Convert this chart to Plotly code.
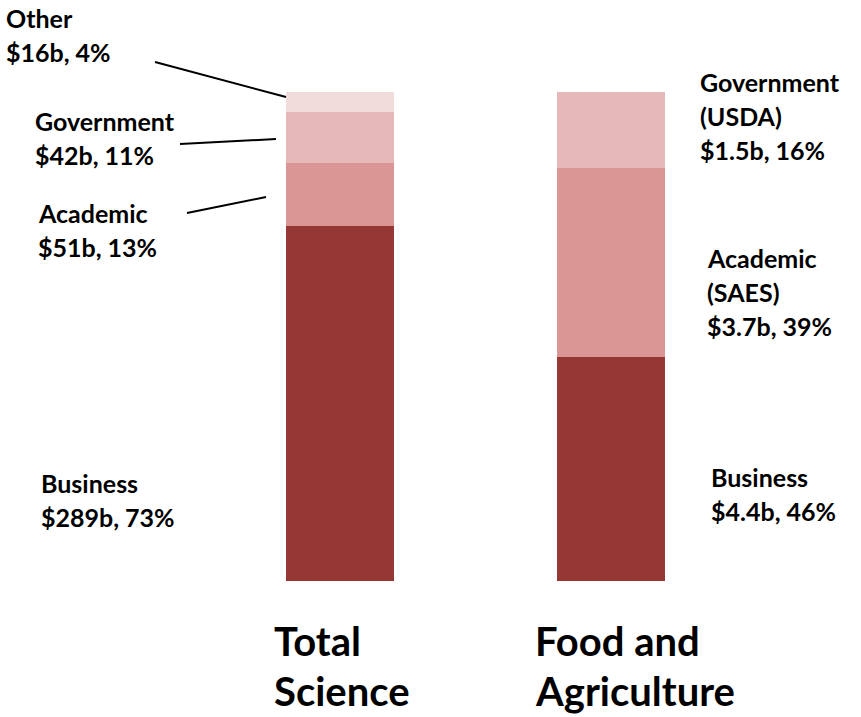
import plotly.graph_objects as go

# R&D funding by source, billions of dollars
categories = ["Total Science", "Food and Agriculture"]
sources = ["Business", "Academic", "Government", "Other"]
total_science = [289, 51, 42, 16]
food_agriculture = [4.4, 3.7, 1.5, 0]
colors = ["#953735", "#d99694", "#e6b9b8", "#f2dcdb"]

W, H = 861, 717
FONT = "Lato"


def px(x):
    return x / W


def py(y):
    return 1 - y / H


def pct(values, i):
    return round(100 * values[i] / sum(values))


def money(v):
    return f"${v:g}b"


fig = go.Figure()
for i, src in enumerate(sources):
    fig.add_trace(go.Bar(
        x=[0, 1],
        y=[total_science[i], food_agriculture[i]],
        name=src,
        marker=dict(color=colors[i], line=dict(width=0)),
        width=0.3985,
        showlegend=False,
    ))

annotations = []


def label(lines, x, y0, gap=34, size=25):
    for k, t in enumerate(lines):
        annotations.append(dict(
            text=t, x=px(x), y=py(y0 + k * gap), xref="paper", yref="paper",
            xanchor="left", yanchor="middle", showarrow=False,
            font=dict(family=FONT, size=size, color="black", weight="bold"),
        ))


ts, fa = total_science, food_agriculture
label(["Other", f"{money(ts[3])}, {pct(ts, 3)}%"], 4, 18)
label(["Government", f"{money(ts[2])}, {pct(ts, 2)}%"], 33, 121)
label(["Academic", f"{money(ts[1])}, {pct(ts, 1)}%"], 36, 213)
label(["Business", f"{money(ts[0])}, {pct(ts, 0)}%"], 39, 483)
label(["Government", "(USDA)", f"{money(fa[2])}, {pct(fa, 2)}%"], 698, 82)
label(["Academic", "(SAES)", f"{money(fa[1])}, {pct(fa, 1)}%"], 705, 258)
label(["Business", f"{money(fa[0])}, {pct(fa, 0)}%"], 709, 477)

# category titles under the bars
label(["Total", "Science"], 272, 641, gap=50, size=40)
label(["Food and", "Agriculture"], 533, 641, gap=50, size=40)

# leader lines for the small segments
leaders = [((155, 62), (286, 97)), ((180, 144), (276, 139)), ((187, 213), (266, 197))]
shapes = [dict(type="line", xref="paper", yref="paper",
               x0=px(a[0]), y0=py(a[1]), x1=px(b[0]), y1=py(b[1]),
               line=dict(color="black", width=2)) for a, b in leaders]

fig.update_layout(
    barmode="stack",
    barnorm="percent",
    width=W, height=H,
    margin=dict(l=0, r=0, t=0, b=0),
    paper_bgcolor="white", plot_bgcolor="white",
    xaxis=dict(range=[-340 / 271, (W - 340) / 271], visible=False),
    yaxis=dict(range=[-(H - 581) / 4.89, 100 + 92 / 4.89], visible=False),
    annotations=annotations,
    shapes=shapes,
    bargap=0,
)

fig.write_html("out.html")
